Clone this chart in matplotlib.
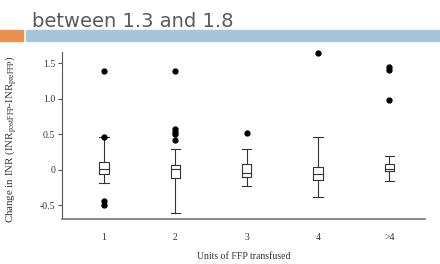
import matplotlib
matplotlib.use("Agg")
import matplotlib.pyplot as plt
from matplotlib.patches import Rectangle

plt.rcParams['font.family'] = ['Liberation Serif', 'DejaVu Serif']
plt.rcParams['mathtext.fontset'] = 'stix'

# Change in INR per units of FFP transfused
groups = ["1", "2", "3", "4", ">4"]
whislo = [-0.18, -0.60, -0.22, -0.38, -0.15]
q1 = [-0.06, -0.11, -0.10, -0.14, -0.02]
med = [0.01, 0.01, -0.04, -0.06, 0.02]
q3 = [0.11, 0.07, 0.08, 0.04, 0.09]
whishi = [0.46, 0.29, 0.29, 0.47, 0.19]
fliers = [
    [1.39, 0.46, -0.44, -0.49],
    [1.39, 0.57, 0.53, 0.50, 0.42],
    [0.52],
    [1.64],
    [1.45, 1.41, 0.98],
]
yticks = [-0.5, 0, 0.5, 1.0, 1.5]
ytick_labels = ["-0.5", "0", "0.5", "1.0", "1.5"]

fig = plt.figure(figsize=(4.4, 2.64), dpi=100)

# slide header
fig.text(32/440, 1 - 27/264, "between 1.3 and 1.8", family="DejaVu Sans",
         fontsize=14, color="#5e5856", ha="left", va="baseline")
fig.patches.append(Rectangle((0, 1 - 41/264), 23/440, 11/264,
                             transform=fig.transFigure, color="#e8904f"))
fig.patches.append(Rectangle((26/440, 1 - 41/264), 414/440, 11/264,
                             transform=fig.transFigure, color="#a6c4da"))

ax = fig.add_axes([62/440, 45/264, 363/440, 167/264])

stats = []
for i in range(len(groups)):
    stats.append(dict(whislo=whislo[i], q1=q1[i], med=med[i], q3=q3[i],
                      whishi=whishi[i], fliers=fliers[i], label=groups[i]))

lc = "#333333"
ax.bxp(stats, positions=range(1, len(groups) + 1), widths=0.13,
       boxprops=dict(color=lc, lw=0.8), whiskerprops=dict(color=lc, lw=0.8),
       capprops=dict(color=lc, lw=0.8), medianprops=dict(color=lc, lw=0.8),
       capwidths=0.13,
       flierprops=dict(marker="o", markerfacecolor="black", markeredgecolor="black",
                       markersize=3.5, clip_on=False))

ax.set_xlim(0.41, 5.5)
ax.set_ylim(-0.69, 1.66)
ax.set_yticks(yticks)
ax.set_yticklabels(ytick_labels)
ax.tick_params(axis="y", length=3, width=0.8, color="#555555", labelsize=7,
               labelcolor="#333333", pad=2)
ax.tick_params(axis="x", length=0, labelsize=7, labelcolor="#333333", pad=10)
for s in ["top", "right"]:
    ax.spines[s].set_visible(False)
ax.spines["left"].set_color("#555555")
ax.spines["bottom"].set_color("#777777")
ax.spines["bottom"].set_linewidth(1.2)

ax.set_xlabel("Units of FFP transfused", fontsize=7, color="#333333", labelpad=7)
fig.text(11/440, 1 - 139/264,
         "Change in INR (INR$_{\\mathrm{postFFP}}$-INR$_{\\mathrm{preFFP}}$)",
         rotation=90, fontsize=7.8, color="#333333", ha="center", va="center")

fig.savefig("out.png", dpi=100)
